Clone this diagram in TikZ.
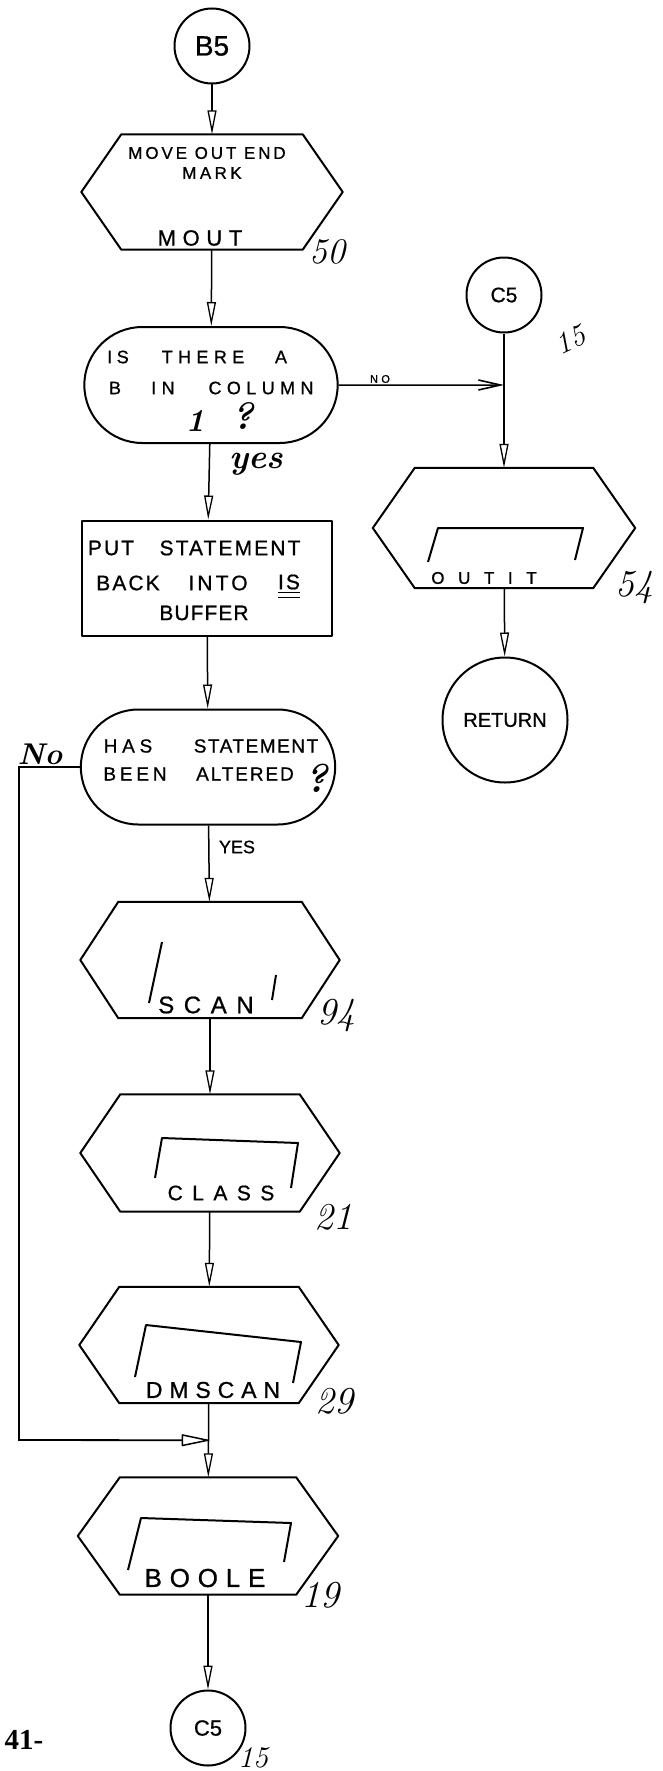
\documentclass[tikz,border=0pt]{standalone}
\usepackage{fontspec}
\newfontfamily\hand{Liberation Sans}[FakeBold=0.8]
\newfontfamily\typeface{Liberation Serif}
\usetikzlibrary{arrows.meta,shapes.misc,shapes.geometric,calc}

% hexagonal predefined-process outline around a (borderless) rectangle node
\newcommand\hexout[2]{%
  \draw[outline] (#1.west) -- ([xshift=#2]#1.north west) -- ([xshift=-#2]#1.north east)
    -- (#1.east) -- ([xshift=-#2]#1.south east) -- ([xshift=#2]#1.south west) -- cycle;}

\tikzset{
  outline/.style={draw=black, line width=2pt, line join=round},
  conn/.style={line width=1.5pt, -{Triangle[open,length=24pt,width=9pt,line width=1.3pt]}},
  hexnode/.style={inner sep=0pt, minimum width=#1, minimum height=116pt},
  hw/.style={inner sep=0pt, font=\hand\fontsize{#1}{#1}\selectfont},
  num/.style={inner sep=0pt, font=\itshape\fontsize{#1}{#1}\selectfont},
  cursive/.style={inner sep=0pt, font=\bfseries\itshape\fontsize{#1}{#1}\selectfont},
  inner/.style={line width=2pt, line join=round},
}

\begin{document}
\begin{tikzpicture}[x=1pt,y=-1pt]
\useasboundingbox[fill=white] (0,0) rectangle (663,1771);

% ---------- main column ----------
\node[circle, outline, minimum size=75pt, inner sep=0pt, hw=28] (b5) at (212,46) {B5};

\node[hexnode=261pt, minimum height=115pt] (mout) at (212,192) {};
\hexout{mout}{40pt}
\node[hw=17] (moutA) at (207,153) {\addfontfeature{LetterSpace=17}MOVE OUT END};
\node[hw=17] (moutB) at (212,173) {\addfontfeature{LetterSpace=20}MARK};
\node[hw=22] (moutC) at (200,238) {\addfontfeature{LetterSpace=30}MOUT};
\node[num=36] (n50) at (327,252) {50};

% decision: column 1?
\node[rounded rectangle, outline, minimum width=260pt, minimum height=116pt] (d1) at (211,385) {};
\begin{scope}[every node/.style={hw=18}]
  \node (d1w1) at (118,357) {\addfontfeature{LetterSpace=25}IS};
  \node (d1w2) at (203,357) {\addfontfeature{LetterSpace=30}THERE};
  \node (d1w3) at (281,357) {A};
  \node (d1w4) at (115,388) {B};
  \node (d1w5) at (163,388) {\addfontfeature{LetterSpace=30}IN};
  \node (d1w6) at (261,388) {\addfontfeature{LetterSpace=30}COLUMN};
\end{scope}
\node[cursive=32] (d1one) at (195,421) {1};
\node[cursive=38] (d1q) at (243,416) {?};

% statement box
\node[rectangle, outline, minimum width=250pt, minimum height=115pt] (r1) at (207,578) {};
\begin{scope}[every node/.style={hw=21}]
  \node (r1w1) at (111,548) {\addfontfeature{LetterSpace=10}PUT};
  \node (r1w2) at (230,548) {\addfontfeature{LetterSpace=10}STATEMENT};
  \node (r1w3) at (128,583) {\addfontfeature{LetterSpace=10}BACK};
  \node (r1w4) at (218,583) {\addfontfeature{LetterSpace=15}INTO};
  \node (r1is) at (289,582) {\addfontfeature{LetterSpace=10}IS};
  \node (r1w5) at (204,613) {\addfontfeature{LetterSpace=5}BUFFER};
\end{scope}
\draw[line width=1.6pt] ([yshift=-3pt]r1is.south west) -- ([yshift=-3pt]r1is.south east);
\draw[line width=1.6pt] ([yshift=-8pt]r1is.south west) -- ([yshift=-8pt]r1is.south east);

% decision: altered?
\node[rounded rectangle, outline, minimum width=261pt, minimum height=115pt] (d2) at (208,767) {};
\begin{scope}[every node/.style={hw=19}]
  \node (d2w1) at (128,746) {\addfontfeature{LetterSpace=25}HAS};
  \node (d2w2) at (256,746) {\addfontfeature{LetterSpace=8}STATEMENT};
  \node (d2w3) at (135,774) {\addfontfeature{LetterSpace=20}BEEN};
  \node (d2w4) at (245,774) {\addfontfeature{LetterSpace=10}ALTERED};
\end{scope}
\node[cursive=40] (d2q) at (316,778) {?};

% subroutine calls
\node[hexnode=259pt] (scan) at (210,960) {};
\hexout{scan}{38pt}
\draw[inner] ([shift={(-48,-18)}]scan.center) -- ([shift={(-61,43)}]scan.center);
\draw[inner] ([shift={(66,15)}]scan.center) -- ([shift={(62,40)}]scan.center);
\node[hw=24] (scanT) at (206,1005) {\addfontfeature{LetterSpace=40}SCAN};
\node[num=38] (n94) at (336,1016) {94};

\node[hexnode=259pt, minimum height=117pt] (cls) at (210,1153) {};
\hexout{cls}{40pt}
\draw[inner] ([shift={(-55,25)}]cls.center) -- ([shift={(-48,-15)}]cls.center)
  -- ([shift={(88,-10)}]cls.center) -- ([shift={(81,35)}]cls.center);
\node[hw=21] (clsT) at (221,1193) {\addfontfeature{LetterSpace=45}CLASS};
\node[num=38] (n21) at (333,1217) {21};

\node[hexnode=259pt] (dm) at (209,1345) {};
\hexout{dm}{40pt}
\draw[inner] ([shift={(-74,32)}]dm.center) -- ([shift={(-63,-20)}]dm.center)
  -- ([shift={(92,-3)}]dm.center) -- ([shift={(84,38)}]dm.center);
\node[hw=23] (dmT) at (213,1390) {\addfontfeature{LetterSpace=30}DMSCAN};
\node[num=38] (n29) at (334,1401) {29};

\node[hexnode=260pt, minimum height=117pt] (bo) at (208,1536) {};
\hexout{bo}{42pt}
\draw[inner] ([shift={(-80,34)}]bo.center) -- ([shift={(-67,-18)}]bo.center)
  -- ([shift={(83,-13)}]bo.center) -- ([shift={(76,26)}]bo.center);
\node[hw=26] (boT) at (205,1578) {\addfontfeature{LetterSpace=30}BOOLE};
\node[num=38] (n19) at (320,1595) {19};

\node[circle, outline, minimum size=75pt, inner sep=0pt, hw=22] (c5b) at (208,1728) {C5};
\node[num=30] (n15b) at (253,1758) {15};

\node[inner sep=0pt, font=\typeface\bfseries\fontsize{29}{29}\selectfont] (page) at (24,1740) {41-};

% ---------- right column ----------
\node[circle, outline, minimum size=75pt, inner sep=0pt, hw=21] (c5a) at (504,295) {C5};
\node[num=30, rotate=25] (n15a) at (570,340) {15};

\node[hexnode=262pt, minimum height=120pt] (out) at (504,528) {};
\hexout{out}{42pt}
\draw[inner] ([shift={(-76,34)}]out.center) -- ([shift={(-66,0)}]out.center)
  -- ([shift={(79,0)}]out.center) -- ([shift={(71,32)}]out.center);
\node[hw=17] (outT) at (484,578) {\addfontfeature{LetterSpace=80}OUTIT};
\node[num=38] (n54) at (634,588) {54};

\node[circle, outline, minimum size=125pt, inner sep=0pt, hw=20] (ret) at (505,720) {RETURN};

% ---------- connectors ----------
\coordinate (j1) at (c5a |- d1);
\coordinate (j2) at ($(dm.south)!0.5!(bo.north)$);
\coordinate (lp) at (19,1440);

\draw[conn] (b5) -- (mout);
\draw[conn] (mout) -- (d1);
\draw[conn] (d1) -- (r1);
\node[cursive=34] (yes1) at (256,464) {yes};
\draw[conn] (r1) -- (d2);
\draw[conn] (d2) -- (scan);
\node[hw=18] (yes2) at (237,847) {YES};
\draw[conn] (scan) -- (cls);
\draw[conn] (cls) -- (dm);
\draw[conn] (dm) -- (bo);
\draw[conn] (bo) -- (c5b);

\draw[conn] (c5a) -- (out);
\draw[conn] (out) -- (ret);
\draw[line width=1.5pt, -{Straight Barb[length=22pt,width=10pt,line width=1.6pt]}] (d1) -- (j1);
\node[hw=11] (nolbl) at (380,379) {\addfontfeature{LetterSpace=30}NO};

\draw[line width=1.8pt, -{Triangle[open,round,length=30pt,width=12pt,line width=1.5pt]}]
  (d2.west) -| (lp) -- (j2);
\node[cursive=30] (nolbl2) at (40,754) {No};

\end{tikzpicture}
\end{document}
